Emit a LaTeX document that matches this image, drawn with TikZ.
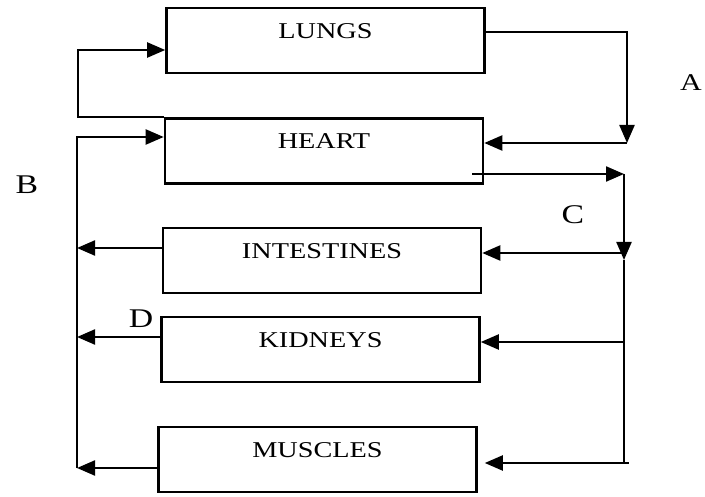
\documentclass[tikz,border=0pt]{standalone}
\usepackage{fontspec}
\setmainfont{Liberation Serif}[FakeStretch=1.25]
\usetikzlibrary{arrows.meta,positioning}

\begin{document}
\begin{tikzpicture}[
  x=1pt,y=1pt,
  organ/.style={draw,line width=2.6pt,minimum width=318pt,minimum height=65pt,inner ysep=0pt,text height=30.5pt,text depth=34.5pt,font=\fontsize{22.6}{24}\selectfont},
  wire/.style={line width=2.2pt},
  arr/.style={wire,-{Triangle[length=18pt,width=15pt]}},
  lbl/.style={font=\fontsize{27}{30}\selectfont}
]
\useasboundingbox (0,0) rectangle (705,496);
\node[organ] (lungs) at (325.5,455.5) {LUNGS};
\node[organ] (heart) at (324,345) {HEART};
\node[organ] (intestines) at (322,235.5) {INTESTINES};
\node[organ] (kidneys) at (320.5,146.5) {KIDNEYS};
\node[organ] (muscles) at (317.5,36.5) {MUSCLES};
% lungs circuit
\coordinate (aturn) at (627,353);
\draw[arr] (heart.north west) -- ++(-86,0) |- ([yshift=-9.5pt]lungs.west);
\draw[arr] ([yshift=8.5pt]lungs.east) -| (aturn);
\draw[arr] (aturn) -- (heart.east |- aturn);
% body circuit, out of the heart
\coordinate (ctop) at (624,322);
\coordinate (cmid) at (624,236);
\coordinate (cbot) at (624,33);
\coordinate (ie) at ([yshift=7.5pt]intestines.east);
\coordinate (ke) at ([yshift=7.5pt]kidneys.east);
\draw[arr] ([xshift=-12pt,yshift=-23pt]heart.east) -- (ctop);
\draw[arr] (ctop) -- (cmid);
\draw[wire] (cmid) -- (cbot) -- ++(5,0);
\draw[arr] (cmid |- ie) -- (ie);
\draw[arr] (cmid |- ke) -- (ke);
\draw[arr,shorten >=7pt] (cbot) -- (muscles.east |- cbot);
% back to the heart
\coordinate (bbot) at (77,28);
\coordinate (btop) at (77,359);
\coordinate (iw) at ([yshift=12.5pt]intestines.west);
\coordinate (kw) at ([yshift=12.5pt]kidneys.west);
\coordinate (mw) at ([yshift=-8.5pt]muscles.west);
\draw[arr] (bbot) -- (btop) -- (heart.west |- btop);
\draw[arr] (iw) -- (iw -| bbot);
\draw[arr] (kw) -- (kw -| bbot);
\draw[arr] (mw) -- (mw -| bbot);
% labels
\node[lbl,font=\fontsize{24}{26}\selectfont] (labA) at (691,413) {A};
\node[lbl] (labB) at (27,311) {B};
\node[lbl] (labC) at (573,281) {C};
\node[lbl] (labD) at (141,177) {D};
\end{tikzpicture}
\end{document}
